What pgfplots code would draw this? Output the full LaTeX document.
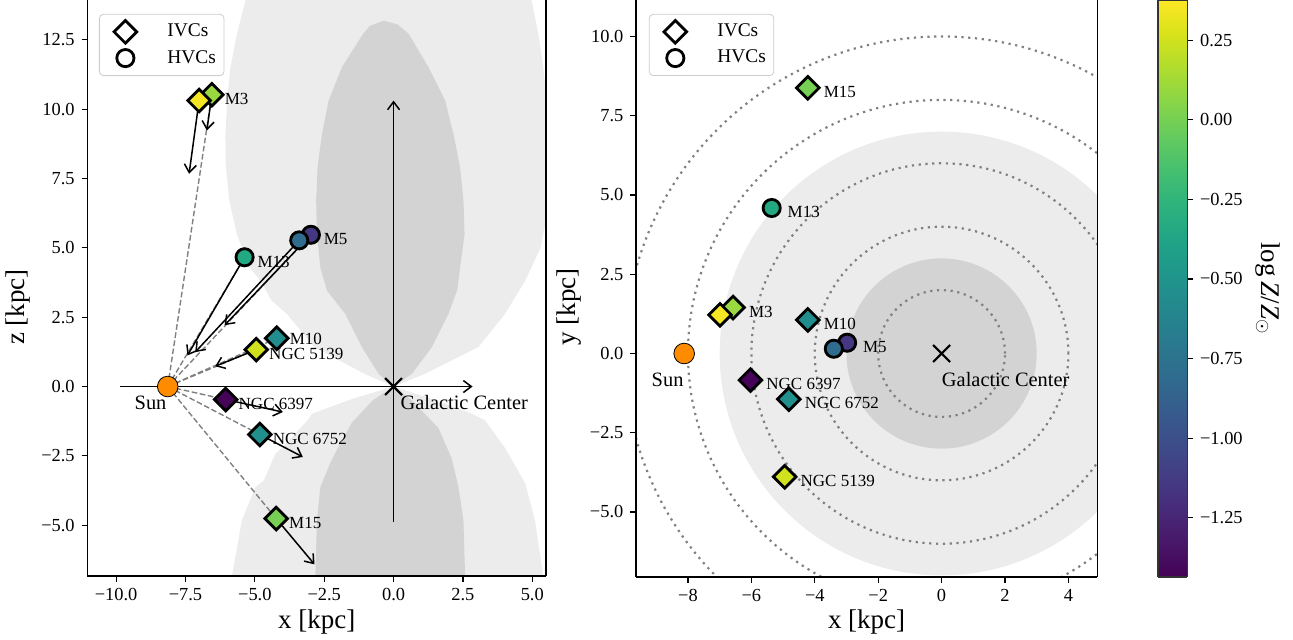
\documentclass[border=0pt]{standalone}
\usepackage{fontspec}
\setmainfont{Liberation Serif}
\usepackage{pgfplots}
\pgfplotsset{compat=1.18}
\usetikzlibrary{arrows.meta}
\definecolor{lightg}{RGB}{236,236,236}
\definecolor{darkg}{RGB}{211,211,211}
\definecolor{sunor}{RGB}{255,140,0}
\definecolor{dashg}{RGB}{128,128,128}
\tikzset{ring/.style={dashg, line width=1.1pt, dash pattern=on 1.1pt off 2.3pt}}

\pgfplotsset{
  panel/.style={
    anchor=south west,
    axis on top,
    axis x line*=bottom, axis y line*=box,
    xtick pos=bottom, ytick pos=left,
    tick align=outside,
    axis line style={line width=0.65pt, black},
    every tick/.style={line width=0.6pt, black},
    major tick length=2.8pt,
    tick label style={font=\fontsize{9.2}{11}\selectfont},
    label style={font=\fontsize{13.5}{16}\selectfont},
    colormap/viridis,
    point meta min=-1.436, point meta max=0.376,
    legend style={anchor=north west, draw=black!20, rounded corners=2pt, fill=white,
      font=\fontsize{9.7}{11.6}\selectfont, inner xsep=2pt, inner ysep=2.8pt, row sep=1.2pt},
    legend cell align=left,
    legend image code/.code={\path[draw=none, fill=none] (0pt,-5.8pt) rectangle (30pt,5.8pt); \draw[##1] plot coordinates {(11pt,0pt)};},
  },
  ivc/.style={scatter, only marks, mark=square*, mark size=4pt, scatter src=explicit,
    mark options={rotate=45, line width=1.4pt},
    scatter/use mapped color={draw=black, fill=mapped color}, forget plot},
  hvc/.style={scatter, only marks, mark=*, mark size=4.3pt, scatter src=explicit,
    mark options={line width=1.4pt},
    scatter/use mapped color={draw=black, fill=mapped color}, forget plot},
  vel/.style={line width=0.75pt, black, -{Straight Barb[length=4pt,width=6pt]}, forget plot},
  los/.style={line width=0.7pt, dashg, dash pattern=on 2.8pt off 1.3pt, forget plot},
}

\begin{document}
\begin{tikzpicture}
% ---------------- left panel: x-z ----------------
\begin{axis}[panel,
  at={(43.65pt,32pt)},
  x=13.87pt, y=13.87pt,
  xmin=-11.04, xmax=5.5, ymin=-6.83, ymax=13.93,
  xtick={-10,-7.5,-5,-2.5,0,2.5,5},
  xticklabels={−10.0,−7.5,−5.0,−2.5,0.0,2.5,5.0},
  ytick={-5,-2.5,0,2.5,5,7.5,10,12.5},
  yticklabels={−5.0,−2.5,0.0,2.5,5.0,7.5,10.0,12.5},
  xlabel={x [kpc]}, ylabel={z [kpc]},
  xlabel style={at={(axis description cs:0.5,-0.0793)}, anchor=center},
  ylabel style={at={(axis description cs:-0.15,0.467)}, anchor=center},
  legend style={at={(0.0255,0.976)}},
]
\addlegendimage{only marks, mark=square, mark size=4pt, mark options={rotate=45, line width=1.4pt, draw=black, fill=white}}
\addlegendentry{IVCs}
\addlegendimage{only marks, mark=o, mark size=4.3pt, mark options={line width=1.4pt, draw=black, fill=white}}
\addlegendentry{HVCs}
% halo / bulge regions
\addplot[fill=lightg, draw=none, forget plot] coordinates {
 (0,0) (1.14,0.46) (3.06,1.42) (4.02,2.62) (4.75,3.82) (5.3,5.0) (5.6,6.5) (5.65,8) (5.6,9.5)
 (5.5,10.5) (5.4,11.5) (5.22,12.7) (4.98,13.9) (4.85,14.6) (-5.2,14.6) (-5.34,13.9)
 (-5.65,12.7) (-5.88,11.5) (-6.0,10.3) (-6.06,9.1) (-6.05,8.0) (-5.92,6.7) (-5.65,5.5)
 (-5.2,4.3) (-4.8,3.82) (-4.4,3.1) (-3.85,2.62) (-2.85,1.42) (-1.05,0.46) (0,0)} --cycle;
\addplot[fill=lightg, draw=none, forget plot] coordinates {
 (0,0) (-1.5,-0.45) (-2.94,-0.98) (-3.1,-1.22) (-4.0,-2.19) (-4.26,-2.42) (-4.68,-3.39)
 (-4.98,-3.63) (-5.47,-4.83) (-5.83,-6.87) (-5.9,-7.5) (5.6,-7.5) (5.4,-6.87) (5.1,-4.83)
 (4.75,-3.5) (4.14,-2.42) (4.0,-2.19) (3.3,-1.22) (2.82,-0.98) (1.4,-0.45) (0,0)} --cycle;
\addplot[fill=darkg, draw=none, forget plot] coordinates {
 (0,0) (0.66,0.46) (1.38,1.42) (1.98,2.62) (2.3,3.5) (2.40,4.29) (2.56,5.49) (2.52,6.7)
 (2.40,7.9) (2.16,9.1) (1.86,10.31) (1.26,11.51) (0.55,12.71) (0.15,13.05) (-0.36,13.19)
 (-0.85,13.0) (-1.1,12.71) (-1.86,11.51) (-2.34,10.31) (-2.58,9.1) (-2.74,7.9) (-2.79,6.7)
 (-2.76,5.49) (-2.64,4.29) (-2.4,3.46) (-1.74,2.62) (-1.14,1.42) (-0.54,0.46) (0,0)} --cycle;
\addplot[fill=darkg, draw=none, forget plot] coordinates {
 (0,0) (-0.75,-0.5) (-1.5,-1.3) (-2.0,-2.2) (-2.3,-2.8) (-2.64,-3.63) (-2.76,-4.83)
 (-2.82,-6.87) (-2.85,-7.5) (2.6,-7.5) (2.58,-6.87) (2.52,-4.83) (2.34,-3.63) (2.1,-2.6)
 (1.62,-1.5) (0.66,-0.5) (0,0)} --cycle;
% axes through the Galactic Center
\addplot[vel] coordinates {(-9.87,0) (2.85,0)};
\addplot[vel] coordinates {(0,-4.88) (0,10.31)};
% lines of sight from the Sun
\addplot[los] coordinates {(-8.14,0) (-6.55,10.52)};
\addplot[los] coordinates {(-8.14,0) (-5.37,4.66)};
\addplot[los] coordinates {(-8.14,0) (-2.98,5.47)};
\addplot[los] coordinates {(-8.14,0) (-4.21,1.74)};
\addplot[los] coordinates {(-8.14,0) (-4.95,1.33)};
\addplot[los] coordinates {(-8.14,0) (-6.05,-0.47)};
\addplot[los] coordinates {(-8.14,0) (-4.82,-1.73)};
\addplot[los] coordinates {(-8.14,0) (-4.23,-4.76)};
% velocity vectors
\addplot[vel] coordinates {(-6.55,10.52) (-6.73,9.23)};
\addplot[vel] coordinates {(-7.01,10.31) (-7.37,7.67)};
\addplot[vel] coordinates {(-2.98,5.47) (-6.09,2.21)};
\addplot[vel] coordinates {(-3.40,5.27) (-7.15,1.24)};
\addplot[vel] coordinates {(-5.37,4.66) (-7.43,1.12)};
\addplot[vel] coordinates {(-4.95,1.33) (-6.43,0.73)};
\addplot[vel] coordinates {(-6.05,-0.47) (-3.99,-0.92)};
\addplot[vel] coordinates {(-4.82,-1.73) (-3.27,-2.54)};
\addplot[vel] coordinates {(-4.23,-4.76) (-2.85,-6.41)};
% Sun and Galactic Center
\addplot[only marks, mark=*, mark size=5.15pt, mark options={draw=none, fill=sunor}, forget plot] coordinates {(-8.14,0)};
\addplot[only marks, mark=x, mark size=6pt, mark options={line width=1.1pt, black}, forget plot] coordinates {(0,0)};
% clouds
\addplot[ivc] table[meta=c] {
x y c
-6.55 10.52 0.10
-7.01 10.31 0.35
-4.21 1.74 -0.55
-4.95 1.33 0.25
-6.05 -0.47 -1.42
-4.82 -1.73 -0.53
-4.23 -4.76 0.00
};
\addplot[hvc] table[meta=c] {
x y c
-5.37 4.66 -0.35
-2.98 5.47 -1.15
-3.40 5.27 -0.80
};
\begin{scope}[every node/.style={anchor=west, font=\fontsize{8.5}{10}\selectfont, inner sep=0pt, xshift=6.3pt, yshift=-2.2pt}]
\node at (axis cs:-6.55,10.52) {M3};
\node at (axis cs:-2.98,5.47) {M5};
\node at (axis cs:-5.37,4.66) {M13};
\node[yshift=1.8pt] at (axis cs:-4.21,1.74) {M10};
\node at (axis cs:-4.95,1.33) {NGC 5139};
\node at (axis cs:-6.05,-0.47) {NGC 6397};
\node at (axis cs:-4.82,-1.73) {NGC 6752};
\node at (axis cs:-4.23,-4.76) {M15};
\end{scope}
\node[anchor=center, font=\fontsize{10.2}{12}\selectfont, inner sep=0pt, xshift=-8.6pt, yshift=-8.2pt] at (axis cs:-8.14,0) {Sun};
\node[anchor=west, font=\fontsize{10.2}{12}\selectfont, inner sep=0pt, xshift=3.3pt, yshift=-8.0pt] at (axis cs:0,0) {Galactic Center};
\end{axis}

% ---------------- right panel: x-y ----------------
\begin{axis}[panel,
  at={(318pt,31.5pt)},
  x=15.85pt, y=15.85pt,
  xmin=-9.64, xmax=4.91, ymin=-7.05, ymax=11.15,
  xtick={-8,-6,-4,-2,0,2,4},
  xticklabels={−8,−6,−4,−2,0,2,4},
  ytick={-5,-2.5,0,2.5,5,7.5,10},
  yticklabels={−5.0,−2.5,0.0,2.5,5.0,7.5,10.0},
  xlabel={x [kpc]}, ylabel={y [kpc]},
  xlabel style={at={(axis description cs:0.5,-0.0775)}, anchor=center},
  ylabel style={at={(axis description cs:-0.146,0.468)}, anchor=center},
  legend style={at={(0.028,0.976)}},
]
\addlegendimage{only marks, mark=square, mark size=4pt, mark options={rotate=45, line width=1.4pt, draw=black, fill=white}}
\addlegendentry{IVCs}
\addlegendimage{only marks, mark=o, mark size=4.3pt, mark options={line width=1.4pt, draw=black, fill=white}}
\addlegendentry{HVCs}
\fill[lightg] (axis cs:0,0) circle[radius=7];
\fill[darkg] (axis cs:0,0) circle[radius=3];
\draw[ring] (axis cs:0,0) circle[radius=2];
\draw[ring] (axis cs:0,0) circle[radius=4];
\draw[ring] (axis cs:0,0) circle[radius=6];
\draw[ring] (axis cs:0,0) circle[radius=8];
\draw[ring] (axis cs:0,0) circle[radius=10];
\addplot[only marks, mark=*, mark size=5.15pt, mark options={draw=none, fill=sunor}, forget plot] coordinates {(-8.12,0)};
\addplot[only marks, mark=x, mark size=6pt, mark options={line width=1.1pt, black}, forget plot] coordinates {(0,0)};
\addplot[ivc] table[meta=c] {
x y c
-6.58 1.45 0.10
-6.99 1.22 0.35
-4.22 1.06 -0.55
-4.95 -3.89 0.25
-6.03 -0.84 -1.42
-4.82 -1.44 -0.53
-4.22 8.38 0.00
};
\addplot[hvc] table[meta=c] {
x y c
-5.36 4.59 -0.35
-2.98 0.34 -1.15
-3.40 0.15 -0.80
};
\begin{scope}[every node/.style={anchor=west, font=\fontsize{8.5}{10}\selectfont, inner sep=0pt, xshift=7.8pt, yshift=-2.1pt}]
\node at (axis cs:-6.58,1.45) {M3};
\node at (axis cs:-2.98,0.34) {M5};
\node at (axis cs:-5.36,4.59) {M13};
\node at (axis cs:-4.22,1.06) {M10};
\node at (axis cs:-4.95,-3.89) {NGC 5139};
\node at (axis cs:-6.03,-0.84) {NGC 6397};
\node at (axis cs:-4.82,-1.44) {NGC 6752};
\node at (axis cs:-4.22,8.38) {M15};
\end{scope}
\node[anchor=center, font=\fontsize{10.2}{12}\selectfont, inner sep=0pt, xshift=-8.3pt, yshift=-13pt] at (axis cs:-8.12,0) {Sun};
\node[anchor=west, font=\fontsize{10.2}{12}\selectfont, inner sep=0pt, xshift=0pt, yshift=-13pt] at (axis cs:0,0) {Galactic Center};
\end{axis}

% ---------------- colorbar ----------------
\begin{axis}[
  at={(579pt,31.5pt)}, anchor=south west,
  scale only axis, width=14.7pt, height=288.5pt,
  view={0}{90},
  xmin=0, xmax=1, ymin=-1.436, ymax=0.376,
  xtick=\empty,
  ytick={-1.25,-1,-0.75,-0.5,-0.25,0,0.25},
  yticklabels={−1.25,−1.00,−0.75,−0.50,−0.25,0.00,0.25},
  yticklabel pos=right, ytick pos=right,
  tick align=outside,
  axis on top,
  axis line style={line width=0.6pt, black!80},
  every tick/.style={line width=0.6pt, black},
  major tick length=2.8pt,
  tick label style={font=\fontsize{9.2}{11}\selectfont},
  colormap/viridis,
  point meta min=-1.436, point meta max=0.376,
  ylabel={log\,\textit{Z}/\textit{Z}$_{\odot}$},
  ylabel style={font=\fontsize{13.5}{16}\selectfont, at={(axis description cs:3.75,0.5)}, anchor=center, rotate=180},
]
\addplot3[surf, shader=interp, point meta=y] coordinates {
(0,-1.436,0) (1,-1.436,0)

(0,0.376,0) (1,0.376,0)
};
\end{axis}
\pgfresetboundingbox
\useasboundingbox (0,0) rectangle (646.5pt,320pt);
\end{tikzpicture}
\end{document}
